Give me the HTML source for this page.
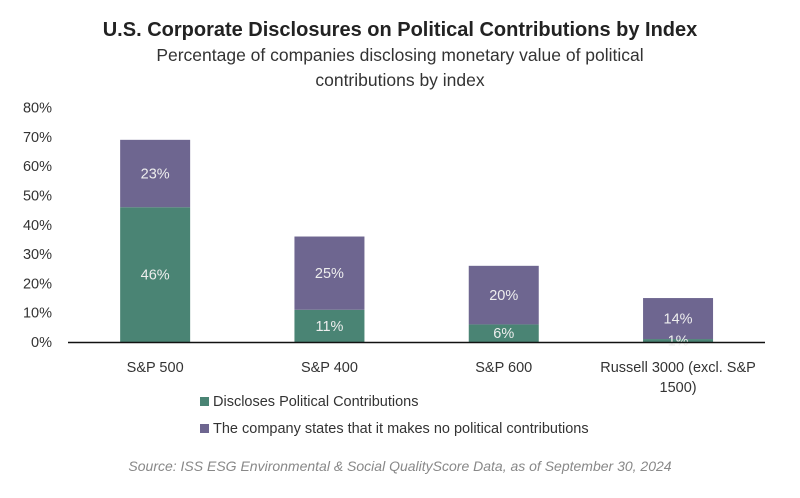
<!DOCTYPE html>
<html><head><meta charset="utf-8"><style>
body{margin:0;background:#fff;font-family:"Liberation Sans",sans-serif}
</style></head><body>
<svg width="800" height="493" viewBox="0 0 800 493">
<text x="400" y="36" text-anchor="middle" font-size="20" font-weight="bold" fill="#222">U.S. Corporate Disclosures on Political Contributions by Index</text>
<text x="400" y="61" text-anchor="middle" font-size="17.5" fill="#333">Percentage of companies disclosing monetary value of political</text>
<text x="400" y="86" text-anchor="middle" font-size="17.5" fill="#333">contributions by index</text>
<g id="yaxis"></g><g id="bars"></g><g id="xaxis"></g>
<rect x="200" y="397" width="9" height="9" fill="#4a8474"/>
<text x="213" y="406" font-size="14.5" fill="#333">Discloses Political Contributions</text>
<rect x="200" y="424" width="9" height="9" fill="#6e6690"/>
<text x="213" y="433" font-size="14.5" fill="#333">The company states that it makes no political contributions</text>
<text x="400" y="471" text-anchor="middle" font-size="14" font-style="italic" fill="#888">Source: ISS ESG Environmental &amp; Social QualityScore Data, as of September 30, 2024</text>
</svg>
<script>
const categories=[["S&P 500"],["S&P 400"],["S&P 600"],["Russell 3000 (excl. S&P","1500)"]];
const discloses=[46,11,6,1];
const noContrib=[23,25,20,14];
const yTicks=[0,10,20,30,40,50,60,70,80];
const NS="http://www.w3.org/2000/svg";
const y0=342,pxPer=2.93,x0=68,step=174.3,bw=70;
const Y=v=>y0-v*pxPer;
const X=i=>x0+step*(i+0.5);
function mk(t,a,p){const e=document.createElementNS(NS,t);for(const k in a)e.setAttribute(k,a[k]);p.appendChild(e);return e;}
const ya=document.getElementById('yaxis'),bg=document.getElementById('bars'),xa=document.getElementById('xaxis');
yTicks.forEach(v=>{const t=mk('text',{x:52,y:Y(v)+5,'text-anchor':'end','font-size':14.5,fill:'#333'},ya);t.textContent=v+'%';

});
categories.forEach((c,i)=>{
 const cx=X(i);
 const r1=mk('rect',{x:cx-bw/2,y:Y(discloses[i]),width:bw,height:discloses[i]*pxPer,fill:'#4a8474'},bg);
 
 
 const r2=mk('rect',{x:cx-bw/2,y:Y(discloses[i]+noContrib[i]),width:bw,height:noContrib[i]*pxPer,fill:'#6e6690'},bg);
 
 
 const l1=mk('text',{x:cx,y:Y(discloses[i]/2)+5,'text-anchor':'middle','font-size':14.5,fill:'#eee'},bg);l1.textContent=discloses[i]+'%';
 
 
 const l2=mk('text',{x:cx,y:Y(discloses[i]+noContrib[i]/2)+5,'text-anchor':'middle','font-size':14.5,fill:'#eee'},bg);l2.textContent=noContrib[i]+'%';
 
 
 c.forEach((line,j)=>{const t=mk('text',{x:cx,y:372+j*20,'text-anchor':'middle','font-size':14.5,fill:'#333'},xa);t.textContent=line;
 
 });
});
const ax=mk('line',{x1:68,x2:765,y1:y0+0.5,y2:y0+0.5,stroke:'#111','stroke-width':1.5},xa);


</script>
</body></html>
